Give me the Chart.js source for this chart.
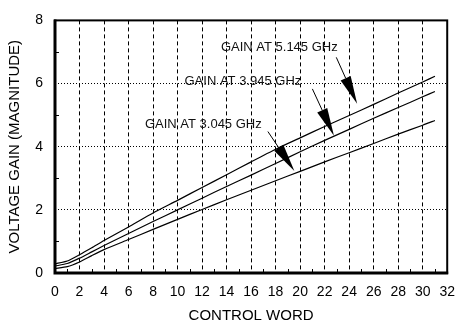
<!DOCTYPE html>
<html>
<head>
<meta charset="utf-8">
<script src="https://cdn.jsdelivr.net/npm/chart.js@4/dist/chart.umd.min.js"></script>
<style>
  html, body { margin: 0; padding: 0; background: #fff; }
  #wrap { width: 466px; height: 329px; }
</style>
</head>
<body>
<div id="wrap"><canvas id="gainChart"></canvas></div>
<script>
// valores
const controlWord = [0, 1, 2, 3, 4, 6, 8, 10, 12, 14, 16, 18, 20, 22, 24, 26, 28, 30, 31];
const gain5145 = [0.29, 0.38, 0.58, 0.8, 1.03, 1.46, 1.9, 2.3, 2.71, 3.11, 3.52, 3.92, 4.28, 4.64, 4.99, 5.34, 5.7, 6.05, 6.23];
const gain3945 = [0.22, 0.3, 0.47, 0.67, 0.87, 1.25, 1.63, 2.0, 2.37, 2.74, 3.1, 3.47, 3.84, 4.2, 4.55, 4.9, 5.24, 5.58, 5.75];
const gain3045 = [0.14, 0.2, 0.35, 0.55, 0.74, 1.06, 1.38, 1.7, 2.01, 2.32, 2.62, 2.92, 3.22, 3.52, 3.81, 4.1, 4.4, 4.68, 4.83];

const xTicks = [0, 2, 4, 6, 8, 10, 12, 14, 16, 18, 20, 22, 24, 26, 28, 30, 32];
const yTicks = [0, 2, 4, 6, 8];

// textos das anotações e posições (em unidades do gráfico)
const noteTexts = ['GAIN AT 5.145 GHz', 'GAIN AT 3.945 GHz', 'GAIN AT 3.045 GHz'];
const noteAt = [[18.3, 7.16], [15.33, 6.06], [12.1, 4.7]];
const arrowFrom = [[22.95, 6.83], [21.0, 5.83], [17.37, 4.48]];
const arrowTo = [[24.65, 5.36], [22.76, 4.35], [19.53, 3.23]];

const FONT = '"Liberation Sans", Arial, sans-serif';

function pts(ys) {
  return controlWord.map((x, i) => ({ x: x, y: ys[i] }));
}

const lineStyle = {
  borderColor: '#000',
  borderWidth: 1.2,
  pointRadius: 0,
  fill: false,
  tension: 0.2
};

// moldura, marcas menores e setas
const extras = {
  id: 'extras',
  afterDraw(chart) {
    const ctx = chart.ctx;
    const a = chart.chartArea;
    const xs = chart.scales.x;
    const ys = chart.scales.y;
    ctx.save();
    ctx.strokeStyle = '#000';

    // marcas menores
    ctx.lineWidth = 1;
    for (let v = 1; v < 32; v += 2) {
      const px = Math.round(xs.getPixelForValue(v)) + 0.5;
      ctx.beginPath();
      ctx.moveTo(px, a.bottom);
      ctx.lineTo(px, a.bottom - 4);
      ctx.stroke();
    }
    for (let v = 1; v < 8; v += 2) {
      const py = Math.round(ys.getPixelForValue(v)) + 0.5;
      ctx.beginPath();
      ctx.moveTo(a.left, py);
      ctx.lineTo(a.left + 4, py);
      ctx.stroke();
    }

    // moldura
    ctx.lineWidth = 2;
    ctx.strokeRect(a.left, a.top, a.right - a.left, a.bottom - a.top);
    ctx.lineWidth = 3;
    ctx.beginPath();
    ctx.moveTo(a.left, a.top - 1);
    ctx.lineTo(a.left, a.bottom);
    ctx.lineTo(a.right + 1, a.bottom);
    ctx.stroke();

    // textos
    ctx.fillStyle = '#111';
    ctx.font = '13px ' + FONT;
    ctx.textAlign = 'center';
    ctx.textBaseline = 'middle';
    noteTexts.forEach((t, i) => {
      ctx.fillText(t, xs.getPixelForValue(noteAt[i][0]), ys.getPixelForValue(noteAt[i][1]));
    });

    // setas
    ctx.fillStyle = '#000';
    ctx.lineWidth = 1;
    arrowFrom.forEach((f, i) => {
      const x0 = xs.getPixelForValue(f[0]);
      const y0 = ys.getPixelForValue(f[1]);
      const x1 = xs.getPixelForValue(arrowTo[i][0]);
      const y1 = ys.getPixelForValue(arrowTo[i][1]);
      const ang = Math.atan2(y1 - y0, x1 - x0);
      const len = 28, hw = 5.5;
      const bx = x1 - len * Math.cos(ang);
      const by = y1 - len * Math.sin(ang);
      ctx.beginPath();
      ctx.moveTo(x0, y0);
      ctx.lineTo(bx, by);
      ctx.stroke();
      ctx.beginPath();
      ctx.moveTo(x1, y1);
      ctx.lineTo(bx + hw * Math.sin(ang), by - hw * Math.cos(ang));
      ctx.lineTo(bx - hw * Math.sin(ang), by + hw * Math.cos(ang));
      ctx.closePath();
      ctx.fill();
    });
    ctx.restore();
  }
};

const config = {
  type: 'line',
  data: {
    datasets: [
      Object.assign({ label: 'GAIN AT 5.145 GHz', data: pts(gain5145) }, lineStyle),
      Object.assign({ label: 'GAIN AT 3.945 GHz', data: pts(gain3945) }, lineStyle),
      Object.assign({ label: 'GAIN AT 3.045 GHz', data: pts(gain3045) }, lineStyle)
    ]
  },
  options: {
    responsive: true,
    maintainAspectRatio: false,
    animation: false,
    layout: { padding: { top: 6, right: 15, left: 0, bottom: 0 } },
    plugins: {
      legend: { display: false },
      tooltip: { enabled: false }
    },
    scales: {
      x: {
        type: 'linear',
        min: 0,
        max: 32,
        afterFit: s => { s.height = 56; },
        ticks: {
          stepSize: 1,
          autoSkip: false,
          maxRotation: 0,
          padding: 11,
          color: '#000',
          font: { family: FONT, size: 14 },
          callback: v => (xTicks.includes(v) ? v : '')
        },
        grid: {
          drawTicks: false,
          lineWidth: 1,
          color: c => (c.tick && c.tick.value % 2 === 0 && c.tick.value > 0 && c.tick.value < 32 ? '#000' : 'rgba(0,0,0,0)')
        },
        border: { display: false, dash: [4, 3] },
        title: {
          display: true,
          text: 'CONTROL WORD',
          color: '#000',
          font: { family: FONT, size: 15 },
          padding: { top: 0, bottom: 4 }
        }
      },
      y: {
        min: 0,
        max: 8,
        afterFit: s => { s.width = 55; },
        ticks: {
          stepSize: 1,
          padding: 12,
          color: '#000',
          font: { family: FONT, size: 14 },
          callback: v => (yTicks.includes(v) ? v : '')
        },
        grid: {
          drawTicks: false,
          lineWidth: 1,
          color: c => (c.tick && [2, 4, 6].includes(c.tick.value) ? '#000' : 'rgba(0,0,0,0)')
        },
        border: { display: false, dash: [1, 2] },
        title: {
          display: true,
          text: 'VOLTAGE GAIN (MAGNITUDE)',
          color: '#000',
          font: { family: FONT, size: 15 },
          padding: { top: 6, bottom: 0 }
        }
      }
    }
  },
  plugins: [extras]
};

const myChart = new Chart(document.getElementById('gainChart'), config);
</script>
</body>
</html>
